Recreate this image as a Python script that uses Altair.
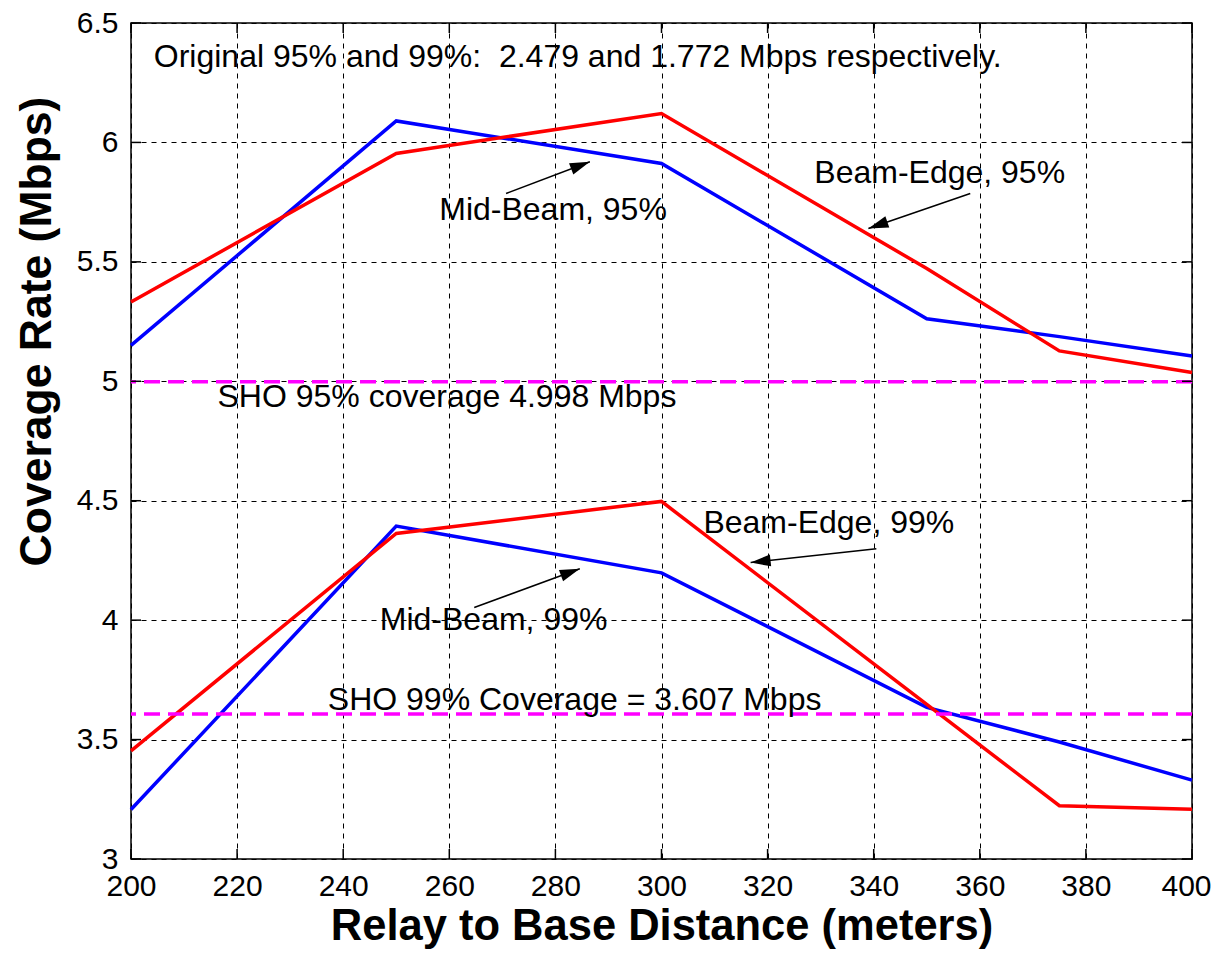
import math
import altair as alt
import pandas as pd

# ---------------- data ----------------
distance = [200, 250, 300, 350, 375, 400]
mid_beam_95 = [5.150, 6.090, 5.912, 5.262, 5.187, 5.106]
beam_edge_95 = [5.332, 5.954, 6.121, 5.472, 5.127, 5.037]
mid_beam_99 = [3.207, 4.394, 4.198, 3.635, 3.490, 3.330]
beam_edge_99 = [3.453, 4.363, 4.497, 3.647, 3.223, 3.208]

sho_levels = [4.998, 3.607]

x_ticks = [200, 220, 240, 260, 280, 300, 320, 340, 360, 380, 400]
y_ticks = [3, 3.5, 4, 4.5, 5, 5.5, 6, 6.5]

label_text = [
    "Original 95% and 99%:\u00a0 2.479 and 1.772 Mbps respectively.",
    "Mid-Beam, 95%",
    "Beam-Edge, 95%",
    "SHO 95% coverage 4.998 Mbps",
    "Beam-Edge, 99%",
    "Mid-Beam, 99%",
    "SHO 99% Coverage = 3.607 Mbps",
]
label_x = [204.3, 258.1, 328.8, 216.3, 307.9, 246.9, 237.1]
label_y = [6.356, 5.716, 5.870, 4.933, 4.407, 4.000, 3.667]

arrow_tail_x = [270.7, 358.2, 340.5, 264.7]
arrow_tail_y = [5.786, 5.786, 4.299, 4.053]
arrow_head_x = [286.5, 339.0, 316.8, 284.6]
arrow_head_y = [5.919, 5.640, 4.241, 4.215]

# ---------------- layout / style ----------------
W, H = 1061, 836
FONT = "Liberation Sans, Arial, Helvetica, sans-serif"
X_DOMAIN = [200, 400]
Y_DOMAIN = [3, 6.5]

series_names = ["Mid-Beam 95", "Beam-Edge 95", "Mid-Beam 99", "Beam-Edge 99"]
series_vals = [mid_beam_95, beam_edge_95, mid_beam_99, beam_edge_99]
series_colors = ["#0000ff", "#ff0000", "#0000ff", "#ff0000"]

rows = []
for name, vals in zip(series_names, series_vals):
    for d, v in zip(distance, vals):
        rows.append({"distance": d, "rate": v, "series": name})
lines_df = pd.DataFrame(rows)

xs = alt.Scale(domain=X_DOMAIN, nice=False, zero=False)
ys = alt.Scale(domain=Y_DOMAIN, nice=False, zero=False)

X_TITLE = "Relay to Base Distance (meters)"
Y_TITLE = "Coverage Rate (Mbps)"

x_axis = alt.Axis(
    values=x_ticks, title=X_TITLE,
    labelFont=FONT, labelFontSize=30, labelColor="black", labelPadding=12,
    labelOffset=alt.ConditionalAxisNumber(
        condition={"test": "datum.value >= 400", "value": -6}, value=0
    ),
    ticks=False, tickSize=0, domain=False,
    grid=True, gridColor="black", gridDash=[5, 5], gridWidth=1, gridOpacity=1,
    titleFont=FONT, titleFontSize=43.5, titleFontWeight="bold", titleColor="black",
    titleY=80, titleBaseline="alphabetic", labelFlush=False,
)
y_axis = alt.Axis(
    values=y_ticks, format="~g", title=Y_TITLE,
    labelFont=FONT, labelFontSize=30, labelColor="black", labelPadding=13,
    ticks=False, tickSize=0, domain=False,
    grid=True, gridColor="black", gridDash=[5, 5], gridWidth=1, gridOpacity=1,
    titleFont=FONT, titleFontSize=44.5, titleFontWeight="bold", titleColor="black",
    titleAngle=270, titleX=-81, titleY=308, titleAlign="center",
    titleBaseline="alphabetic", labelFlush=False,
)


def X(field):
    return alt.X(field, scale=xs, axis=x_axis, title=X_TITLE)


def Y(field):
    return alt.Y(field, scale=ys, axis=y_axis, title=Y_TITLE)


lines = alt.Chart(lines_df).mark_line(strokeWidth=3.5).encode(
    x=X("distance:Q"),
    y=Y("rate:Q"),
    color=alt.Color("series:N", scale=alt.Scale(domain=series_names, range=series_colors), legend=None),
    detail="series:N",
)

sho = alt.Chart(pd.DataFrame({"rate": sho_levels})).mark_rule(
    color="#ff00ff", strokeWidth=3.5, strokeDash=[16, 8]
).encode(y=Y("rate:Q"))

# inside tick marks (MATLAB style)
xt = pd.DataFrame({"distance": x_ticks})
yt = pd.DataFrame({"rate": y_ticks})
tick_style = dict(color="black", strokeWidth=1.5)
xt_bottom = alt.Chart(xt).mark_rule(**tick_style).encode(
    x=X("distance:Q"), y=alt.value(H), y2=alt.value(H - 10))
xt_top = alt.Chart(xt).mark_rule(**tick_style).encode(
    x=X("distance:Q"), y=alt.value(0), y2=alt.value(10))
yt_left = alt.Chart(yt).mark_rule(**tick_style).encode(
    y=Y("rate:Q"), x=alt.value(0), x2=alt.value(10))
yt_right = alt.Chart(yt).mark_rule(**tick_style).encode(
    y=Y("rate:Q"), x=alt.value(W), x2=alt.value(W - 10))

# annotations
labels = alt.Chart(pd.DataFrame({"text": label_text, "distance": label_x, "rate": label_y})).mark_text(
    align="left", baseline="middle", font=FONT, fontSize=32, color="black"
).encode(
    x=X("distance:Q"),
    y=Y("rate:Q"),
    text="text:N",
)

sx = W / (X_DOMAIN[1] - X_DOMAIN[0])
sy = H / (Y_DOMAIN[1] - Y_DOMAIN[0])
angles = []
for tx, ty, hx, hy in zip(arrow_tail_x, arrow_tail_y, arrow_head_x, arrow_head_y):
    dx = (hx - tx) * sx
    dys = -(hy - ty) * sy
    angles.append(math.degrees(math.atan2(dx, -dys)) % 360)

arrows_df = pd.DataFrame({
    "distance": arrow_tail_x, "rate": arrow_tail_y,
    "hx": arrow_head_x, "hy": arrow_head_y, "ang": angles,
})
arrow_lines = alt.Chart(arrows_df).mark_rule(color="black", strokeWidth=1.5).encode(
    x=X("distance:Q"), y=Y("rate:Q"),
    x2="hx:Q", y2="hy:Q",
)
heads_df = pd.DataFrame({"distance": arrow_head_x, "rate": arrow_head_y, "ang": angles})
arrow_heads = alt.Chart(heads_df).mark_point(
    shape="M0,0L0.6,2L-0.6,2Z", filled=True, color="black", opacity=1, size=400, strokeWidth=0
).encode(
    x=X("distance:Q"), y=Y("rate:Q"),
    angle=alt.Angle("ang:Q", scale=None),
)

chart = alt.layer(
    lines, sho, xt_bottom, xt_top, yt_left, yt_right, labels, arrow_lines, arrow_heads
).properties(
    width=W, height=H,
    autosize=alt.AutoSizeParams(type="none"),
    padding={"left": 123, "top": 15, "right": 20, "bottom": 90},
    background="white",
).configure_view(
    stroke="black", strokeWidth=1.5
)

chart.save("out.html", embed_options={"renderer": "svg", "actions": False})
